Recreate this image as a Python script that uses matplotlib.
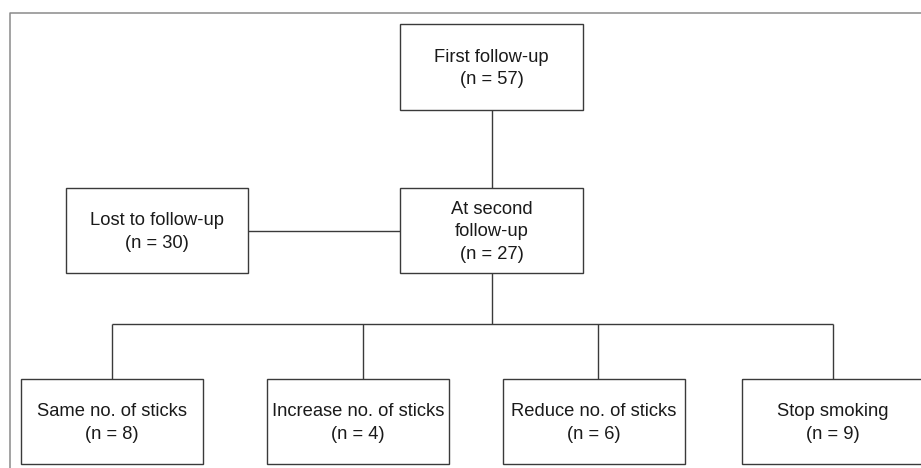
import matplotlib
matplotlib.use("Agg")
import matplotlib.pyplot as plt
from matplotlib.patches import Rectangle

# Data
top_label = "First follow-up"
top_n = 57
second_label = "At second\nfollow-up"
second_n = 27
lost_label = "Lost to follow-up"
lost_n = 30
outcome_labels = ["Same no. of sticks", "Increase no. of sticks", "Reduce no. of sticks", "Stop smoking"]
outcome_n = [8, 4, 6, 9]

W, H = 921, 468
fig = plt.figure(figsize=(W / 100, H / 100), dpi=100)
ax = fig.add_axes([0, 0, 1, 1])
ax.set_xlim(0, W)
ax.set_ylim(H, 0)
ax.axis("off")

FONT = "Liberation Sans"
FS = 13.2
EDGE = "#3a3a3a"
LW = 1.0
LS = 1.42
DY = 1.5

def box(x0, y0, x1, y1, text):
    ax.add_patch(Rectangle((x0, y0), x1 - x0, y1 - y0, fill=False, ec=EDGE, lw=LW))
    ax.text((x0 + x1) / 2, (y0 + y1) / 2 + DY, text, ha="center", va="center",
            fontsize=FS, family=FONT, color="#1a1a1a", linespacing=LS)

def line(xs, ys):
    ax.plot(xs, ys, color=EDGE, lw=LW, solid_capstyle="butt")

# Outer frame (top and left only visible)
ax.plot([10, 10, W + 5], [H + 5, 13, 13], color="#8a8a8a", lw=1.1)

# Top boxes
box(400, 24, 583, 110, f"{top_label}\n(n = {top_n})")
box(400, 188, 583, 273, f"{second_label}\n(n = {second_n})")
box(66, 188, 248, 273, f"{lost_label}\n(n = {lost_n})")

# Connectors
line([492, 492], [110, 188])
line([248, 400], [231, 231])
line([492, 492], [273, 324])
line([112, 833], [324, 324])

bottom_x = [(21, 203), (267, 449), (503, 685), (742, 924)]
drop_x = [112, 363, 598, 833]
for (x0, x1), dx, lab, n in zip(bottom_x, drop_x, outcome_labels, outcome_n):
    line([dx, dx], [324, 379])
    ax.add_patch(Rectangle((x0, 379), x1 - x0, 85, fill=False, ec=EDGE, lw=LW))
    ax.text((x0 + x1) / 2 if x1 < W else 833, 421.5 + DY, f"{lab}\n(n = {n})", ha="center", va="center",
            fontsize=FS, family=FONT, color="#1a1a1a", linespacing=LS)

fig.savefig("out.png", dpi=100)
